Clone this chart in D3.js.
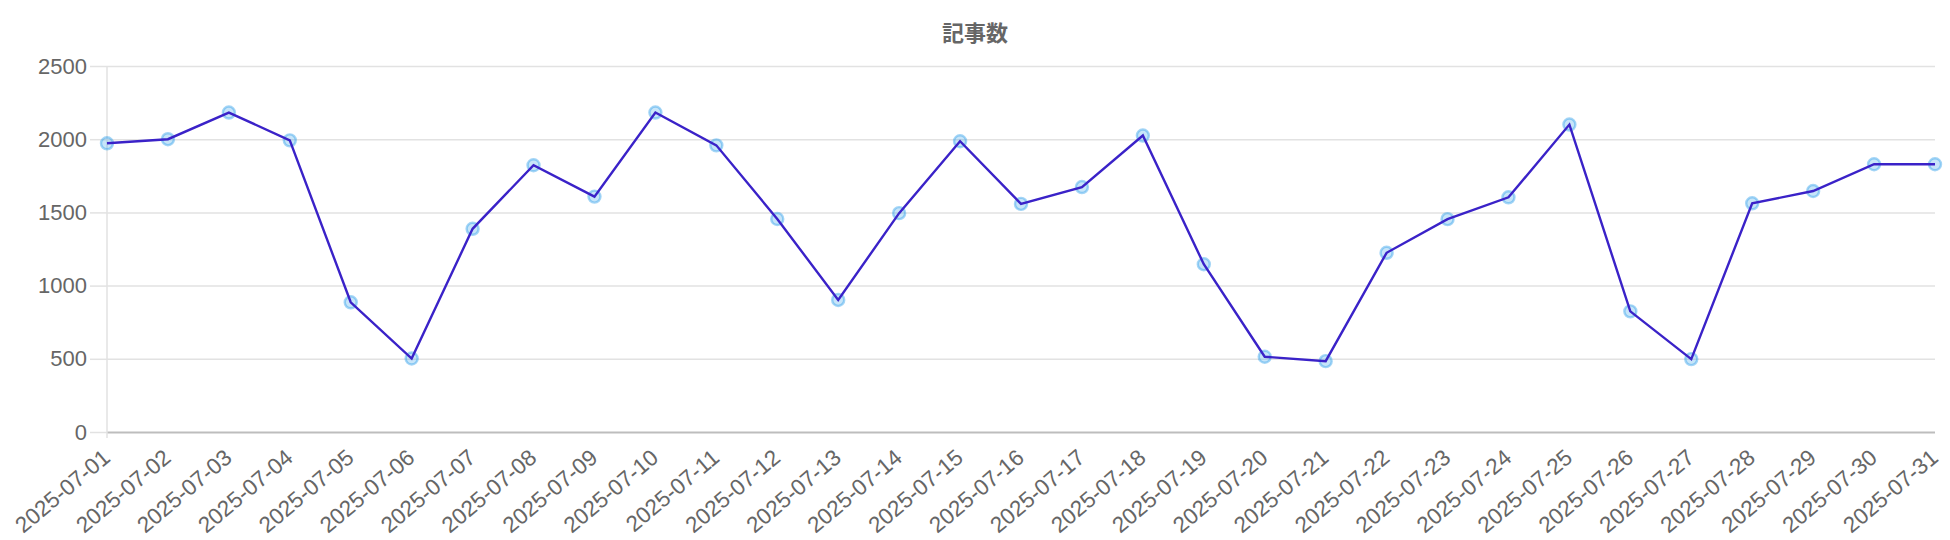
<!DOCTYPE html>
<html>
<head>
<meta charset="utf-8">
<script src="https://cdn.jsdelivr.net/npm/d3@7"></script>
<style>
  html, body { margin: 0; padding: 0; background: #fff; }
  svg { display: block; }
</style>
</head>
<body>
<svg id="chart" width="1950" height="540"></svg>
<script>
const title = "記事数";
const dates = [
  "2025-07-01","2025-07-02","2025-07-03","2025-07-04","2025-07-05","2025-07-06",
  "2025-07-07","2025-07-08","2025-07-09","2025-07-10","2025-07-11","2025-07-12",
  "2025-07-13","2025-07-14","2025-07-15","2025-07-16","2025-07-17","2025-07-18",
  "2025-07-19","2025-07-20","2025-07-21","2025-07-22","2025-07-23","2025-07-24",
  "2025-07-25","2025-07-26","2025-07-27","2025-07-28","2025-07-29","2025-07-30",
  "2025-07-31"
];
const counts = [
  1972, 2000, 2182, 1992, 886, 502,
  1388, 1822, 1608, 2182, 1958, 1455,
  902, 1495, 1986, 1558, 1673, 2025,
  1146, 514, 484, 1224, 1454, 1603,
  2100, 824, 498, 1562, 1646, 1829,
  1829
];
const yTicks = [0, 500, 1000, 1500, 2000, 2500];

const W = 1950, H = 540;
const margin = { left: 107, right: 15, top: 66, bottom: 108 };
const svg = d3.select("#chart");
const font = "'Liberation Sans', Arial, Helvetica, sans-serif";

const x = d3.scalePoint().domain(dates).range([margin.left, W - margin.right]);
const y = d3.scaleLinear().domain([0, 2500]).range([H - margin.bottom, margin.top]);

// title
svg.append("text")
  .attr("x", W / 2).attr("y", 41)
  .attr("text-anchor", "middle")
  .attr("font-family", "'Noto Sans CJK JP', sans-serif")
  .attr("font-weight", "bold")
  .attr("font-size", 22)
  .attr("fill", "#666")
  .text(title);

// y tick labels + tick marks
const gY = svg.append("g").attr("transform", `translate(${margin.left},0)`)
  .call(d3.axisLeft(y).tickValues(yTicks).tickSize(17).tickPadding(3).tickFormat(d3.format("d")));
gY.select(".domain").remove();
gY.selectAll(".tick line").attr("stroke", "#e2e2e2").attr("stroke-width", 1.5);
gY.selectAll(".tick text")
  .attr("font-family", font).attr("font-size", 22).attr("fill", "#666");

// horizontal gridlines
const grid = svg.append("g").attr("transform", `translate(${margin.left},0)`)
  .call(d3.axisRight(y).tickValues(yTicks).tickSize(W - margin.right - margin.left).tickFormat(""));
grid.select(".domain").remove();
grid.selectAll(".tick line")
  .attr("stroke", d => d === 0 ? "#bdbdbd" : "#e2e2e2")
  .attr("stroke-width", d => d === 0 ? 2 : 1.5);

// y axis vertical line
svg.append("line")
  .attr("x1", margin.left).attr("x2", margin.left)
  .attr("y1", margin.top).attr("y2", H - margin.bottom + 6)
  .attr("stroke", "#e2e2e2").attr("stroke-width", 1.5);

// x axis labels
const gX = svg.append("g").attr("transform", `translate(0,${H - margin.bottom})`)
  .call(d3.axisBottom(x).tickSize(0).tickPadding(0));
gX.select(".domain").remove();
gX.selectAll(".tick text")
  .attr("font-family", font).attr("font-size", 22.5).attr("fill", "#666")
  .attr("text-anchor", "end")
  .attr("dy", 0)
  .attr("transform", "translate(4,28) rotate(-40)");

// points (drawn under line)
svg.append("g").selectAll("circle")
  .data(counts)
  .join("circle")
  .attr("cx", (d, i) => x(dates[i]))
  .attr("cy", d => y(d))
  .attr("r", 6)
  .attr("fill", "rgba(54,162,235,0.28)")
  .attr("stroke", "rgba(54,162,235,0.45)")
  .attr("stroke-width", 2.4);

// line
const line = d3.line()
  .x((d, i) => x(dates[i]))
  .y(d => y(d));
svg.append("path")
  .datum(counts)
  .attr("d", line)
  .attr("fill", "none")
  .attr("stroke", "#3a22c8")
  .attr("stroke-width", 2.4)
  .attr("stroke-linejoin", "miter");
</script>
</body>
</html>
